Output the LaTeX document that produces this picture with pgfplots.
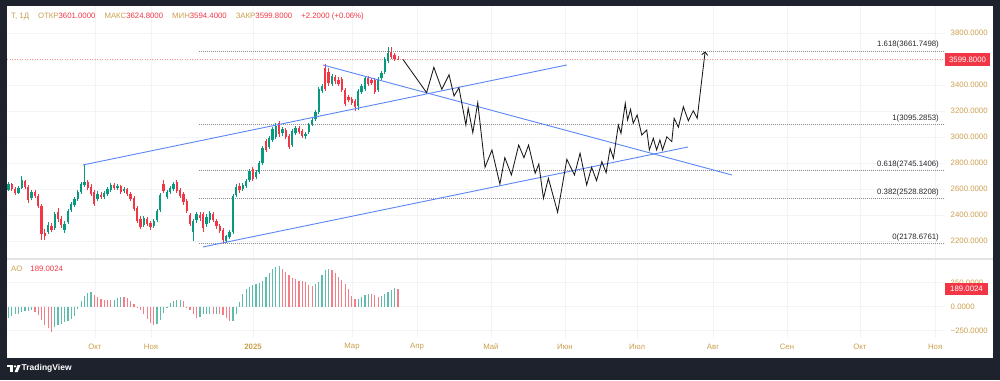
\documentclass[border=0pt]{standalone}
\usepackage{fontspec}
\setmainfont{Liberation Sans}
\usepackage{pgfplots}
\pgfplotsset{compat=1.18}
\usepackage{pgfplotstable}
\usetikzlibrary{arrows.meta}
\definecolor{framec}{RGB}{30,34,45}
\definecolor{upc}{RGB}{8,153,129}
\definecolor{dnc}{RGB}{242,54,69}
\definecolor{gold}{RGB}{204,160,78}
\definecolor{tl}{RGB}{91,134,245}
\definecolor{gridc}{RGB}{243,244,247}
\definecolor{fibc}{RGB}{140,140,140}
\definecolor{fibt}{RGB}{40,40,45}
\newcommand{\lf}{\fontsize{7.8}{9}\selectfont}

\pgfplotstableread{
i o h l c
0 2592 2654 2585 2638
3 2569 2623 2562 2608
4 2608 2700 2600 2669
7 2531 2592 2515 2577
12 2269 2346 2254 2323
14 2300 2423 2285 2408
17 2285 2354 2262 2331
18 2346 2446 2331 2431
19 2438 2500 2423 2485
20 2477 2538 2462 2523
21 2523 2592 2508 2577
22 2577 2654 2562 2638
23 2631 2785 2615 2654
27 2523 2585 2508 2562
29 2538 2585 2523 2569
30 2562 2615 2546 2600
31 2592 2646 2577 2631
33 2608 2638 2592 2623
35 2585 2615 2569 2600
41 2323 2392 2308 2377
44 2315 2369 2300 2354
45 2362 2446 2346 2431
46 2438 2569 2423 2554
48 2538 2592 2523 2577
49 2577 2623 2562 2608
50 2600 2654 2585 2638
56 2269 2369 2200 2354
57 2362 2423 2338 2408
60 2331 2408 2308 2385
61 2362 2431 2338 2415
66 2200 2246 2185 2238
67 2231 2285 2215 2269
68 2269 2562 2254 2546
69 2554 2638 2538 2615
71 2600 2646 2585 2631
72 2623 2677 2608 2662
73 2669 2754 2654 2738
75 2692 2746 2677 2731
76 2731 2815 2715 2800
77 2800 2931 2785 2915
79 2923 3008 2908 2992
80 2977 3077 2962 3061
81 3000 3108 2985 3084
83 3031 3077 3008 3061
86 2938 3061 2923 3046
87 3031 3084 3015 3069
90 3008 3038 2985 3023
91 3038 3108 3023 3092
92 3100 3146 3084 3131
93 3138 3208 3123 3192
94 3192 3385 3177 3369
95 3354 3408 3338 3392
98 3408 3485 3392 3469
106 3238 3369 3208 3354
107 3346 3408 3331 3392
108 3369 3469 3354 3454
112 3362 3461 3346 3446
113 3454 3508 3438 3492
114 3500 3615 3485 3600
115 3585 3692 3569 3646
}\candleup

\pgfplotstableread{
i o h l c
1 2638 2646 2585 2600
2 2600 2615 2554 2569
5 2662 2669 2600 2615
6 2615 2631 2492 2515
8 2577 2592 2531 2546
9 2546 2562 2454 2470
10 2470 2485 2208 2254
11 2262 2292 2208 2238
13 2315 2338 2269 2285
15 2423 2454 2346 2369
16 2369 2392 2300 2323
24 2654 2669 2592 2608
25 2615 2638 2546 2562
26 2577 2592 2470 2485
28 2554 2577 2523 2538
32 2631 2646 2592 2608
34 2623 2631 2562 2577
36 2600 2608 2546 2562
37 2562 2577 2508 2523
38 2531 2546 2431 2446
39 2454 2470 2338 2354
40 2369 2392 2292 2308
42 2369 2385 2315 2331
43 2338 2354 2285 2308
47 2638 2669 2569 2585
51 2654 2669 2569 2585
52 2592 2608 2531 2546
53 2562 2577 2477 2500
54 2508 2523 2415 2431
55 2400 2415 2315 2331
58 2400 2423 2354 2377
59 2408 2423 2269 2300
62 2408 2423 2346 2362
63 2354 2369 2292 2315
64 2315 2331 2262 2277
65 2285 2300 2178 2208
70 2623 2646 2569 2592
74 2754 2769 2662 2677
78 2969 2985 2885 2900
82 3108 3123 3000 3023
84 3054 3069 2985 3000
85 3008 3023 2908 2923
88 3069 3084 3023 3038
89 3046 3061 2992 3008
96 3531 3561 3354 3369
97 3500 3531 3392 3415
99 3461 3477 3408 3431
100 3438 3461 3392 3408
101 3446 3461 3346 3362
102 3362 3377 3238 3254
103 3308 3323 3269 3285
104 3292 3308 3246 3261
105 3277 3292 3200 3231
109 3454 3469 3392 3408
110 3438 3454 3400 3415
111 3438 3454 3331 3346
116 3654 3692 3600 3615
117 3631 3646 3585 3600
118 3601 3624.8 3594.4 3599.8
}\candledn

\pgfplotstableread{
i v
0 -113
1 -95
2 -81
3 -71
4 -60
5 -49
6 -42
7 -35
14 -215
15 -191
16 -177
17 -162
18 -145
19 -124
20 -95
21 -28
22 56
23 113
24 141
25 152
32 74
33 88
34 106
45 -180
46 -138
47 -67
48 -7
49 42
50 64
51 71
52 72
58 -109
59 -78
60 -76
61 -75
63 -74
68 -145
69 -78
70 53
71 134
72 180
73 201
74 222
75 240
76 247
77 272
78 314
79 353
80 395
81 417
82 420
93 233
94 261
95 325
96 381
97 395
106 81
107 99
108 124
109 134
113 113
114 131
115 155
116 177
117 198
}\aoup

\pgfplotstableread{
i v
8 -60
9 -85
10 -138
11 -191
12 -226
13 -261
26 127
27 102
28 85
29 71
30 70
31 69
35 102
36 92
37 64
38 28
39 -4
40 -39
41 -74
42 -131
43 -173
44 -187
53 64
54 -2
55 -35
56 -71
57 -120
62 -76
64 -78
65 -88
66 -120
67 -152
83 395
84 360
85 325
86 304
87 286
88 268
89 265
90 254
91 226
92 212
98 381
99 349
100 314
101 275
102 240
103 184
104 113
105 78
110 131
111 120
112 106
118 189
}\aodn

\pgfplotsset{
  tvaxis/.style={
    anchor=south west, scale only axis, width=938pt,
    xmin=-0.4545, xmax=283.79,
    axis line style={draw=none}, tick style={draw=none},
    xtick={26.2,43.2,74.1,104.1,123.8,146.2,168.6,190.5,213.5,235.9,258.0,280.8},
    xmajorgrids, ymajorgrids,
    major grid style={gridc, line width=0.6pt},
    yticklabel pos=right,
    yticklabel style={font=\lf, text=gold, xshift=2.2pt},
  },
  wick/.style={draw=none, mark=none, error bars/.cd, y dir=plus, y explicit, error mark=none,
    error bar style={draw=#1, line width=0.8pt}},
  body/.style={draw=none, mark=none, error bars/.cd, y dir=plus, y explicit, error mark=none,
    error bar style={draw=#1, line width=2.3pt}},
}

\begin{document}
\begin{tikzpicture}
\fill[framec] (0pt,0pt) rectangle (1000pt,380pt);
\fill[white] (7pt,22pt) rectangle (993pt,374pt);

\begin{axis}[tvaxis, at={(7pt,122pt)}, height=252pt,
  ymin=2069.2, ymax=4007.6,
  xticklabels={},
  ytick={2200,2400,2600,2800,3000,3200,3400,3800},
  yticklabels={2200.0000,2400.0000,2600.0000,2800.0000,3000.0000,3200.0000,3400.0000,3800.0000},
]
% fibonacci levels
\addplot[fibc, line width=0.9pt, dash pattern=on 1pt off 1pt] coordinates {(57.7,3661.7498) (283.79,3661.7498)};
\addplot[fibc, line width=0.9pt, dash pattern=on 1pt off 1pt] coordinates {(57.7,3095.2853) (283.79,3095.2853)};
\addplot[fibc, line width=0.9pt, dash pattern=on 1pt off 1pt] coordinates {(57.7,2745.1406) (283.79,2745.1406)};
\addplot[fibc, line width=0.9pt, dash pattern=on 1pt off 1pt] coordinates {(57.7,2528.8208) (283.79,2528.8208)};
\addplot[fibc, line width=0.9pt, dash pattern=on 1pt off 1pt] coordinates {(57.7,2178.6761) (283.79,2178.6761)};
% last price line
\addplot[dnc!55, line width=0.7pt, dash pattern=on 1pt off 1.5pt] coordinates {(-0.4545,3599.8) (283.79,3599.8)};
% candles
\addplot[wick=upc] table[x=i, y=l, y error plus expr=\thisrow{h}-\thisrow{l}] {\candleup};
\addplot[body=upc] table[x=i, y=o, y error plus expr=\thisrow{c}-\thisrow{o}] {\candleup};
\addplot[wick=dnc] table[x=i, y=l, y error plus expr=\thisrow{h}-\thisrow{l}] {\candledn};
\addplot[body=dnc] table[x=i, y=c, y error plus expr=\thisrow{o}-\thisrow{c}] {\candledn};
% trend lines
\addplot[tl, line width=0.9pt] coordinates {(22.6,2785) (169.2,3554)};
\addplot[tl, line width=0.9pt] coordinates {(58.9,2154) (205.9,2923)};
\addplot[tl, line width=0.9pt] coordinates {(95.3,3554) (219.2,2708)};
% projected path
\addplot[black!90, line width=0.85pt, -{Straight Barb[length=3pt,width=6pt]}] coordinates {
(119.5,3598) (126.7,3341) (128.9,3536) (131.3,3367) (133.5,3479) (135.0,3315)
(136.5,3379) (138.6,3092) (139.3,3221) (140.7,3033) (142.2,3264) (144.4,2767)
(146.5,2900) (148.9,2638) (150.4,2841) (152.4,2708) (154.6,2938) (156.2,2841)
(157.6,2938) (159.6,2721) (160.7,2792) (162.1,2528) (163.6,2682) (166.4,2421)
(169.2,2828) (171.5,2708) (173.2,2875) (175.2,2631) (176.7,2767) (178.2,2664)
(179.8,2810) (181.1,2725) (182.3,2913) (183.3,2836) (184.8,3092) (185.6,3028)
(186.9,3259) (187.6,3131) (188.5,3213) (189.3,3105) (190.5,3169) (191.9,3015)
(193.4,3054) (194.2,2900) (195.4,2990) (196.4,2900) (197.4,2977) (198.2,2900)
(199.5,3002) (201.0,2964) (201.7,3144) (203.0,3075) (204.5,3233) (206.0,3125)
(207.5,3202) (208.7,3144) (211.1,3658)};
% fib labels
\node[anchor=base east, font=\lf, text=fibt, inner sep=0pt, yshift=4pt] at (axis cs:281.97,3661.7498) {1.618(3661.7498)};
\node[anchor=base east, font=\lf, text=fibt, inner sep=0pt, yshift=4pt] at (axis cs:281.97,3095.2853) {1(3095.2853)};
\node[anchor=base east, font=\lf, text=fibt, inner sep=0pt, yshift=4pt] at (axis cs:281.97,2745.1406) {0.618(2745.1406)};
\node[anchor=base east, font=\lf, text=fibt, inner sep=0pt, yshift=4pt] at (axis cs:281.97,2528.8208) {0.382(2528.8208)};
\node[anchor=base east, font=\lf, text=fibt, inner sep=0pt, yshift=4pt] at (axis cs:281.97,2178.6761) {0(2178.6761)};
\end{axis}

\begin{axis}[tvaxis, at={(7pt,42pt)}, height=79pt,
  ymin=-326, ymax=496.9,
  xticklabels={Окт,Ноя,\textbf{2025},Мар,Апр,Май,Июн,Июл,Авг,Сен,Окт,Ноя},
  xticklabel style={anchor=center, yshift=-9pt, text=gold, font=\lf},
  ytick={-250,0,250},
  yticklabels={−250.0000,0.0000,250.0000},
]
\addplot[ycomb, mark=none, draw=upc, draw opacity=0.65, line width=1.2pt] table[x=i, y=v] {\aoup};
\addplot[ycomb, mark=none, draw=dnc, draw opacity=0.65, line width=1.2pt] table[x=i, y=v] {\aodn};
\end{axis}

% pane separator
\draw[gray!22, line width=1.3pt] (7pt,121pt) -- (993pt,121pt);

% header
\node[anchor=west, font=\lf, inner sep=0pt] at (11pt,364pt)
 {\textcolor{gold}{T, 1Д}\hspace{9pt}\textcolor{gold}{ОТКР}\textcolor{dnc}{3601.0000}\hspace{9pt}\textcolor{gold}{МАКС}\textcolor{dnc}{3624.8000}\hspace{9pt}\textcolor{gold}{МИН}\textcolor{dnc}{3594.4000}\hspace{9pt}\textcolor{gold}{ЗАКР}\textcolor{dnc}{3599.8000}\hspace{9pt}\textcolor{dnc}{+2.2000 (+0.06\%)}};
\node[anchor=west, font=\lf, inner sep=0pt] at (11pt,111pt)
 {\textcolor{gold}{AO}\hspace{8pt}\textcolor{dnc}{189.0024}};

% price tags
\fill[dnc] (945pt,314pt) rectangle (990pt,326.5pt);
\node[font=\lf, text=white, inner sep=0pt] at (967.5pt,320.4pt) {3599.8000};
\fill[dnc] (945pt,85pt) rectangle (988pt,97pt);
\node[font=\lf, text=white, inner sep=0pt] at (966.5pt,91pt) {189.0024};

% logo
\fill[white] (7pt,15pt) rectangle (13pt,12.6pt);
\fill[white] (10.2pt,12.6pt) rectangle (12.8pt,8pt);
\fill[white] (15pt,13.6pt) circle (1.3pt);
\fill[white] (14.6pt,8pt) -- (17.6pt,15pt) -- (20.6pt,15pt) -- (17.6pt,8pt) -- cycle;
\node[anchor=west, text=white, font=\fontsize{8.5}{10}\selectfont\bfseries, inner sep=0pt] at (21.5pt,11.7pt) {TradingView};

\pgfresetboundingbox
\path[use as bounding box] (0pt,0pt) rectangle (1000pt,380pt);
\end{tikzpicture}
\end{document}
